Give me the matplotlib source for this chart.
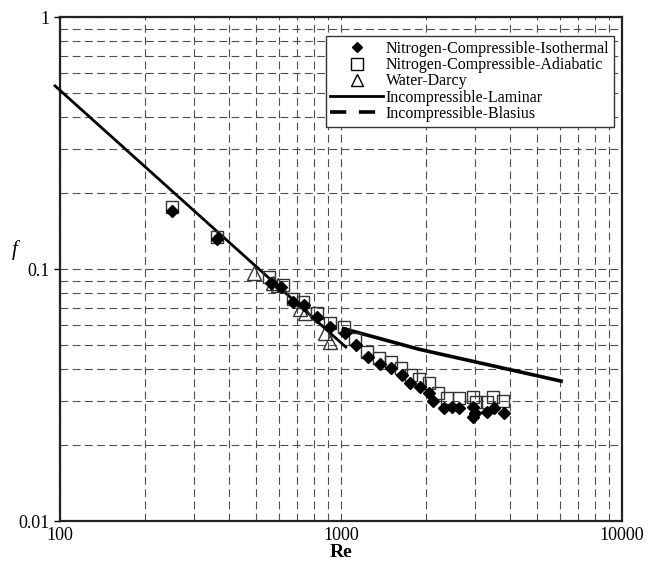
import matplotlib
matplotlib.use("Agg")
import matplotlib.pyplot as plt
from matplotlib.lines import Line2D
from matplotlib.ticker import LogLocator, NullFormatter, FixedLocator, FixedFormatter

plt.rcParams["font.family"] = ["Liberation Serif", "DejaVu Serif"]

# --- Andmed (loetud pildilt) ---
iso_re = [250, 362, 563, 612, 675, 738, 821, 914, 1033, 1131, 1248, 1377, 1506, 1649,
          1760, 1910, 2057, 2125, 2325, 2483, 2630, 2950, 3000, 2950, 3308, 3505, 3802]
iso_f = [0.170, 0.1315, 0.088, 0.0849, 0.074, 0.072, 0.0645, 0.0589, 0.0557, 0.050, 0.0448,
         0.042, 0.0405, 0.038, 0.0353, 0.034, 0.0322, 0.0299, 0.0281, 0.0284, 0.0281, 0.0284,
         0.0268, 0.0259, 0.0271, 0.0281, 0.0268]

adi_re = [250, 362, 554, 622, 675, 732, 821, 914, 1025, 1121, 1237, 1365, 1506, 1635,
          1775, 1895, 2057, 2214, 2384, 2630, 2950, 3030, 3308, 3480, 3770]
adi_f = [0.1767, 0.134, 0.093, 0.0864, 0.076, 0.074, 0.0669, 0.061, 0.0589, 0.0528, 0.0469,
         0.0443, 0.0427, 0.0405, 0.038, 0.0366, 0.0353, 0.0322, 0.0308, 0.0308, 0.0311,
         0.0296, 0.0296, 0.0311, 0.0300]

darcy_re = [490, 573, 597, 715, 744, 877, 914]
darcy_f = [0.0967, 0.088, 0.0866, 0.0694, 0.0669, 0.0557, 0.0513]

laminar_re = [96, 1040]
laminar_f = [0.533, 0.049]

blasius_re = [1020, 1900, 6070]
blasius_f = [0.0580, 0.0480, 0.0359]

# --- Joonis ---
fig = plt.figure(figsize=(6.49, 5.65), dpi=100)
ax = fig.add_axes([60 / 649, 1 - 521 / 565, 562 / 649, 504 / 565])
ax.set_xscale("log")
ax.set_yscale("log")
ax.set_xlim(100, 10000)
ax.set_ylim(0.01, 1)

ax.plot(laminar_re, laminar_f, color="black", lw=2.0, clip_on=False, zorder=3)
ax.plot(blasius_re, blasius_f, color="black", lw=2.6, zorder=3)

ax.plot(darcy_re, darcy_f, linestyle="none", marker="^", ms=10, mfc="none", mec="#333333",
        mew=1.0, zorder=4)
ax.plot(adi_re, adi_f, linestyle="none", marker="s", ms=9, mfc="none", mec="#333333",
        mew=1.0, zorder=4)
ax.plot(iso_re, iso_f, linestyle="none", marker="D", ms=6, color="black", zorder=5)

# ruudustik
ax.grid(True, which="both", color="0.3", lw=0.8, linestyle=(0, (7, 4)))
ax.xaxis.set_major_locator(FixedLocator([100, 1000, 10000]))
ax.xaxis.set_major_formatter(FixedFormatter(["100", "1000", "10000"]))
ax.yaxis.set_major_locator(FixedLocator([0.01, 0.1, 1]))
ax.yaxis.set_major_formatter(FixedFormatter(["0.01", "0.1", "1"]))
ax.xaxis.set_minor_locator(LogLocator(base=10, subs=range(2, 10)))
ax.yaxis.set_minor_locator(LogLocator(base=10, subs=range(2, 10)))
ax.xaxis.set_minor_formatter(NullFormatter())
ax.yaxis.set_minor_formatter(NullFormatter())
ax.tick_params(which="major", direction="out", length=4, width=1, labelsize=13, colors="black")
ax.tick_params(axis="x", which="major", length=0, pad=4)
ax.tick_params(which="minor", length=0)
for s in ax.spines.values():
    s.set_linewidth(1.6)
    s.set_color("#222222")

ax.set_xlabel("Re", fontsize=14, fontweight="bold", labelpad=0)
ax.set_ylabel("f", fontsize=15, fontstyle="italic", rotation=0, va="center", ha="center")
ax.yaxis.set_label_coords(-45 / 562, 0.538)

handles = [
    Line2D([], [], linestyle="none", marker="D", ms=5, color="black"),
    Line2D([], [], linestyle="none", marker="s", ms=8, mfc="none", mec="black", mew=1.0),
    Line2D([], [], linestyle="none", marker="^", ms=8, mfc="none", mec="black", mew=1.0),
    Line2D([], [], color="black", lw=2.0),
    Line2D([], [], color="black", lw=2.6, linestyle=(0, (4.5, 3.5))),
]
labels = ["Nitrogen-Compressible-Isothermal", "Nitrogen-Compressible-Adiabatic",
          "Water-Darcy", "Incompressible-Laminar", "Incompressible-Blasius"]
leg = ax.legend(handles, labels, loc="upper right", bbox_to_anchor=(614 / 649, 1 - 36 / 565),
                bbox_transform=fig.transFigure, fontsize=11.5, fancybox=False, framealpha=1,
                edgecolor="#333333", handlelength=3.3, handletextpad=0.15, labelspacing=0.02,
                borderpad=0.3, borderaxespad=0)
leg.get_frame().set_linewidth(1.0)
leg.set_zorder(10)

fig.savefig("out.png", dpi=100)
